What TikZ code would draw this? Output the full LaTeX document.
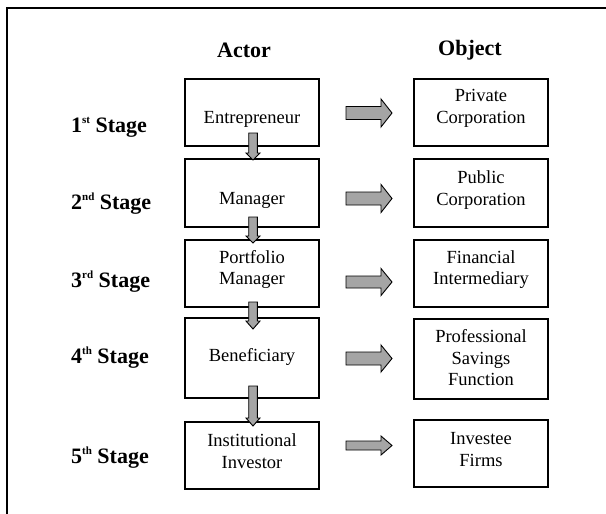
\documentclass[tikz,border=0pt]{standalone}
\usepackage{fontspec}
\setmainfont{Liberation Serif}
\definecolor{arrgray}{RGB}{165,165,165}
\newcommand\supr[1]{\raisebox{9pt}{\fontsize{11}{11}\selectfont #1}}
\newcommand\hblock[3]{%
  \filldraw[blockarrow] (346,{#1-#2}) -- (381,{#1-#2}) -- (381,{#1-#3}) -- (392,#1) -- (381,{#1+#3}) -- (381,{#1+#2}) -- (346,{#1+#2}) -- cycle;}
\newcommand\vblock[3]{%
  \filldraw[blockarrow] (248.7,#1) -- (257.3,#1) -- (257.3,#2) -- (260,#2) -- (253,#3) -- (246,#2) -- (248.7,#2) -- cycle;}
\begin{document}
\begin{tikzpicture}[x=1pt,y=-1pt,
  box/.style={draw=black,line width=1.4pt,minimum width=134pt,inner sep=0pt},
  boxtext/.style={font=\fontsize{18.5}{21.5}\selectfont,align=center,inner sep=0pt},
  head/.style={font=\fontsize{22}{24}\selectfont\bfseries,inner sep=0pt},
  stagelbl/.style={font=\fontsize{22}{24}\selectfont\bfseries,inner sep=0pt,anchor=west},
  blockarrow/.style={draw=black,fill=arrgray,line width=0.9pt,line join=miter}]
\useasboundingbox (0,0) rectangle (606,514);
\fill[white] (0,0) rectangle (606,514);
% frame
\draw[line width=1.5pt] (606,8) -- (7,8) -- (7,514);
% headings
\node[head] (hactor) at (244,50) {Actor};
\node[head] (hobject) at (470,50) {Object};
% stage labels
\node[stagelbl] (s1) at (71,127) {1\supr{st} Stage};
\node[stagelbl] (s2) at (71,204) {2\supr{nd} Stage};
\node[stagelbl] (s3) at (71,282) {3\supr{rd} Stage};
\node[stagelbl] (s4) at (71,358) {4\supr{th} Stage};
\node[stagelbl] (s5) at (71,458) {5\supr{th} Stage};
% left boxes
\node[box,minimum height=67pt] (a1) at (252,112.5) {};
\node[box,minimum height=68pt] (a2) at (252,193) {};
\node[box,minimum height=67pt] (a3) at (252,273.5) {};
\node[box,minimum height=80pt] (a4) at (252,358) {};
\node[box,minimum height=67pt] (a5) at (252,455.5) {};
% right boxes
\node[box,minimum height=67pt] (o1) at (481,112.5) {};
\node[box,minimum height=68pt] (o2) at (481,193) {};
\node[box,minimum height=67pt] (o3) at (481,273.5) {};
\node[box,minimum height=80pt] (o4) at (481,359) {};
\node[box,minimum height=67pt] (o5) at (481,453.5) {};
% texts
\node[boxtext] (ta1) at (252,119) {Entrepreneur};
\node[boxtext] (ta2) at (252,200) {Manager};
\node[boxtext] (ta3) at (252,269.5) {Portfolio\\Manager};
\node[boxtext] (ta4) at (252,357) {Beneficiary};
\node[boxtext] (ta5) at (252,451) {Institutional\\Investor};
\node[boxtext] (to1) at (481,108.5) {Private\\Corporation};
\node[boxtext] (to2) at (481,190) {Public\\Corporation};
\node[boxtext] (to3) at (481,269.5) {Financial\\Intermediary};
\node[boxtext] (to4) at (481,358) {Professional\\Savings\\Function};
\node[boxtext] (to5) at (481,449.5) {Investee\\Firms};
% down arrows
\vblock{133}{153}{160}
\vblock{217}{236}{243}
\vblock{302}{321}{329}
\vblock{386}{418}{426}
% right arrows
\hblock{113}{6.5}{14}
\hblock{198.5}{6.5}{14}
\hblock{282}{6}{13.5}
\hblock{358.5}{6.5}{13.5}
\hblock{445.5}{4.5}{9.5}
\end{tikzpicture}
\end{document}
